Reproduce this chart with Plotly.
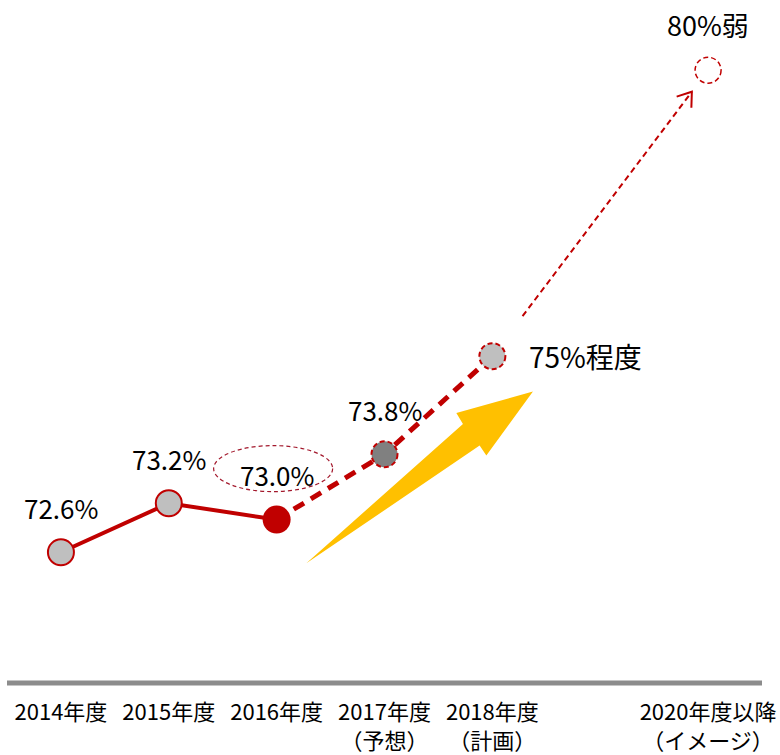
import math
import plotly.graph_objects as go

# ---------------- data ----------------
tick_labels = ["2014年度", "2015年度", "2016年度", "2017年度<br>（予想）",
               "2018年度<br>（計画）", "", "2020年度以降<br>（イメージ）"]
tick_pos = [0, 1, 2, 3, 4, 5, 6]

actual_x = [0, 1, 2]
actual_y = [72.6, 73.2, 73.0]
actual_labels = ["72.6%", "73.2%", "73.0%"]

plan_x = [2, 3, 4]
plan_y = [73.0, 73.8, 75.0]
plan_labels = ["", "73.8%", "75%程度"]

image_x = 6
image_y = 80.0
image_label = "80%弱"

# ---------------- style ----------------
RED = "#C00000"
DARKRED = "#A3182C"
LIGHTGRAY = "#BFBFBF"
DARKGRAY = "#808080"
YELLOW = "#FFC000"
FONT = "'Liberation Sans Narrow', 'Arial Narrow', 'Noto Sans CJK JP', sans-serif"

W, H = 780, 755
ML, MR, MT, MB = 7, 18, 0, 72
X_RANGE = [-0.5, 6.5]
Y_RANGE = [71.0, 79.36]
PW, PH = W - ML - MR, H - MT - MB


def disp(v):
    # the post-2020 point is an "image" on a compressed scale beyond 75%
    return v if v <= 75 else 75 + (v - 75) * 0.7


def to_px(x, y):
    px = (x - X_RANGE[0]) / (X_RANGE[1] - X_RANGE[0]) * PW
    py = (y - Y_RANGE[0]) / (Y_RANGE[1] - Y_RANGE[0]) * PH  # y up
    return px, py


fig = go.Figure()

# solid actual line
fig.add_trace(go.Scatter(x=actual_x, y=actual_y, mode="lines",
                         line=dict(color=RED, width=4), hoverinfo="skip"))
# dashed plan line
fig.add_trace(go.Scatter(x=plan_x, y=plan_y, mode="lines",
                         line=dict(color=RED, width=5, dash="12px,8px"), hoverinfo="skip"))

# markers
fig.add_trace(go.Scatter(x=actual_x[:2], y=actual_y[:2], mode="markers",
                         marker=dict(size=26, color=LIGHTGRAY, line=dict(color=RED, width=2)),
                         hoverinfo="skip"))
fig.add_trace(go.Scatter(x=[actual_x[2]], y=[actual_y[2]], mode="markers",
                         marker=dict(size=28, color=RED, line=dict(width=0)), hoverinfo="skip"))
fig.add_trace(go.Scatter(x=plan_x[1:], y=plan_y[1:], mode="markers",
                         marker=dict(size=26, color=[DARKGRAY, LIGHTGRAY], line=dict(width=0)),
                         hoverinfo="skip"))
fig.add_trace(go.Scatter(x=[image_x], y=[disp(image_y)], mode="markers",
                         marker=dict(size=26, color="white", line=dict(width=0)),
                         hoverinfo="skip"))

shapes = []
# dashed outlines on planned / image markers
for xx, yy, w in [(plan_x[1], plan_y[1], 2), (plan_x[2], plan_y[2], 2), (image_x, disp(image_y), 1.5)]:
    shapes.append(dict(type="circle", xref="x", yref="y", xsizemode="pixel", ysizemode="pixel",
                       xanchor=xx, yanchor=yy, x0=-13, x1=13, y0=-13, y1=13,
                       line=dict(color=RED, width=w, dash="5px,3px"), layer="above"))

# dashed ellipse around 73.0%
shapes.append(dict(type="circle", xref="x", yref="y", xsizemode="pixel", ysizemode="pixel",
                   xanchor=actual_x[2], yanchor=actual_y[2], x0=-63, x1=56, y0=28, y1=74,
                   line=dict(color=DARKRED, width=1.2, dash="4px,3px"), layer="above"))

# yellow block arrow (anchored at 2016 point)
yarrow = [(29.7, -43.7), (186.3, 95.7), (179.7, 106.7), (256.3, 128.0), (209.7, 64.0), (203.0, 74.0)]
path = "M " + " L ".join(f"{a:.1f},{b:.1f}" for a, b in yarrow) + " Z"
shapes.append(dict(type="path", xref="x", yref="y", xsizemode="pixel", ysizemode="pixel",
                   xanchor=actual_x[2], yanchor=actual_y[2], path=path,
                   fillcolor=YELLOW, line=dict(width=0), layer="below"))

# thin dashed arrow from 2018 toward 2020 image
p18 = to_px(plan_x[2], plan_y[2])
p20 = to_px(image_x, disp(image_y))
vx, vy = p20[0] - p18[0], p20[1] - p18[1]
s0, s1 = 0.14, 0.925
sx, sy = vx * s0, vy * s0
ex, ey = vx * s1, vy * s1
shapes.append(dict(type="path", xref="x", yref="y", xsizemode="pixel", ysizemode="pixel",
                   xanchor=plan_x[2], yanchor=plan_y[2],
                   path=f"M {sx:.1f},{sy:.1f} L {ex:.1f},{ey:.1f}",
                   line=dict(color=RED, width=2, dash="6px,4px"), layer="above"))
L = math.hypot(vx, vy)
bx, by = -vx / L, -vy / L
arms = []
for ang in (math.radians(35), math.radians(-35)):
    c, s = math.cos(ang), math.sin(ang)
    ax_ = bx * c - by * s
    ay_ = bx * s + by * c
    arms.append((ex + 16 * ax_, ey + 16 * ay_))
shapes.append(dict(type="path", xref="x", yref="y", xsizemode="pixel", ysizemode="pixel",
                   xanchor=plan_x[2], yanchor=plan_y[2],
                   path=f"M {arms[0][0]:.1f},{arms[0][1]:.1f} L {ex:.1f},{ey:.1f} L {arms[1][0]:.1f},{arms[1][1]:.1f}",
                   line=dict(color=RED, width=2), layer="above"))

# x axis line
shapes.append(dict(type="line", xref="paper", yref="paper", x0=0, x1=1, y0=0, y1=0,
                   line=dict(color="#8C8C8C", width=5), layer="above"))

annotations = []
for xx, yy, t in zip(actual_x, actual_y, actual_labels):
    annotations.append(dict(x=xx, y=yy, text=t, showarrow=False, yshift=45,
                            font=dict(size=26, color="black", family=FONT)))
annotations.append(dict(x=plan_x[1], y=plan_y[1], text=plan_labels[1], showarrow=False, yshift=45,
                        font=dict(size=26, color="black", family=FONT)))
annotations.append(dict(x=plan_x[2], y=plan_y[2], text=plan_labels[2], showarrow=False, xshift=93,
                        font=dict(size=28, color="black", family=FONT)))
annotations.append(dict(x=image_x, y=disp(image_y), text=image_label, showarrow=False, yshift=46,
                        font=dict(size=27, color="black", family=FONT)))

fig.update_layout(
    width=W, height=H,
    margin=dict(l=ML, r=MR, t=MT, b=MB),
    paper_bgcolor="white", plot_bgcolor="white",
    showlegend=False,
    shapes=shapes, annotations=annotations,
    xaxis=dict(range=X_RANGE, tickmode="array", tickvals=tick_pos, ticktext=tick_labels,
               ticks="", showgrid=False, zeroline=False, showline=False,
               tickfont=dict(size=22, color="black", family=FONT), ticklabelstandoff=14,
               fixedrange=True),
    yaxis=dict(range=Y_RANGE, visible=False, showgrid=False, zeroline=False, fixedrange=True),
)

fig.write_html("out.html", config={"displayModeBar": False},
               post_script="document.body.style.margin='0px';document.body.style.padding='0px';")
